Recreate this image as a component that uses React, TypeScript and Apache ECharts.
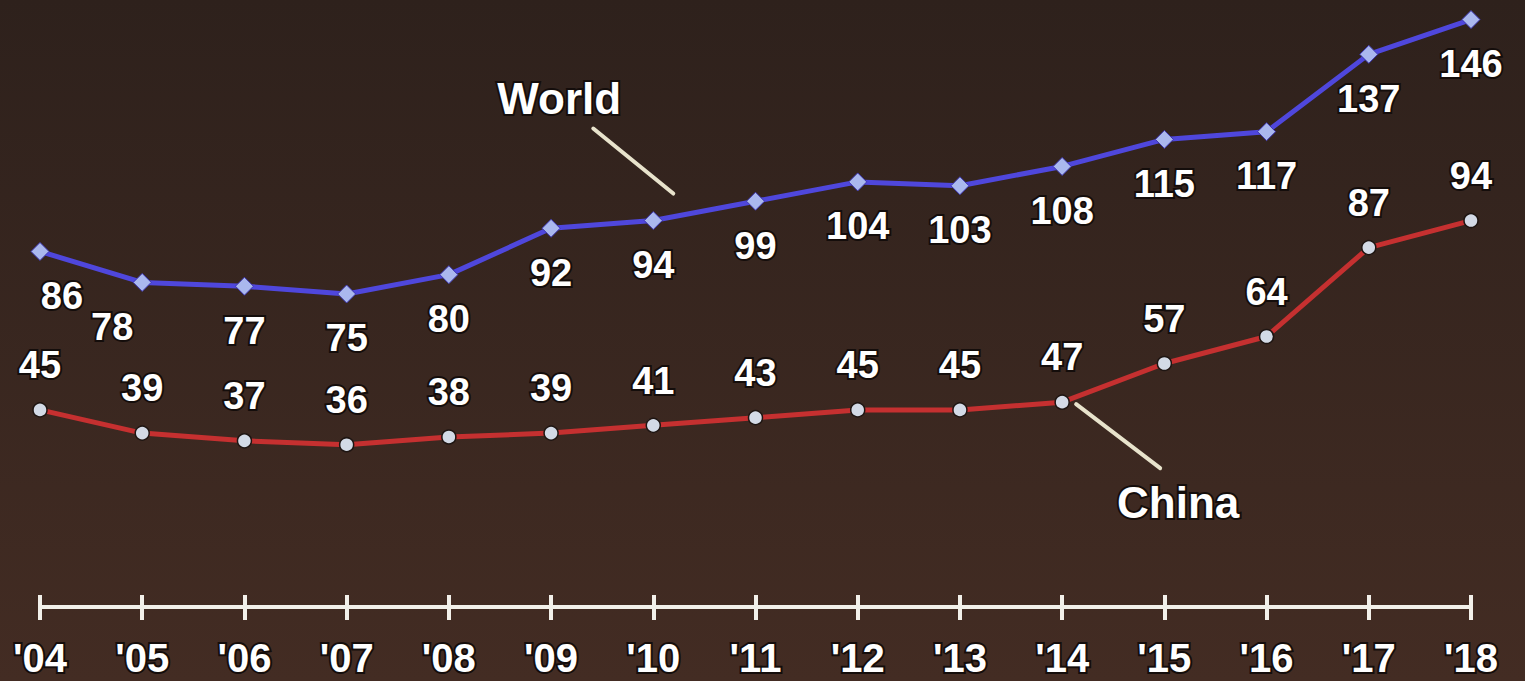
import React, { useEffect, useRef } from "react";
import * as echarts from "echarts";

const years = ["'04", "'05", "'06", "'07", "'08", "'09", "'10", "'11", "'12", "'13", "'14", "'15", "'16", "'17", "'18"];
const worldValues = [86, 78, 77, 75, 80, 92, 94, 99, 104, 103, 108, 115, 117, 137, 146];
const chinaValues = [45, 39, 37, 36, 38, 39, 41, 43, 45, 45, 47, 57, 64, 87, 94];
const worldLabelShift = [22, -30, 0, 0, 0, 0, 0, 0, 0, 0, 0, 0, 0, 0, 0];

const FONT = "'Liberation Sans', Arial, Helvetica, sans-serif";
const textBase = {
  color: "#ffffff",
  fontWeight: "bold" as const,
  fontFamily: FONT,
  textBorderColor: "#140d0b",
  textBorderWidth: 4,
};

export default function App() {
  const ref = useRef<HTMLDivElement>(null);
  useEffect(() => {
    if (!ref.current) return;
    const chart = echarts.init(ref.current, null, { renderer: "svg" });
    chart.setOption({
      animation: false,
      backgroundColor: {
        type: "linear",
        x: 0,
        y: 0,
        x2: 0,
        y2: 1,
        colorStops: [
          { offset: 0, color: "#2e211c" },
          { offset: 1, color: "#432c23" },
        ],
      },
      grid: { left: 40, right: 54, top: 8, bottom: 74 },
      xAxis: [
        {
          type: "category",
          data: years,
          boundaryGap: false,
          position: "bottom",
          axisLine: { show: true, onZero: false, lineStyle: { color: "#f2f0ea", width: 4 } },
          axisTick: { show: true, length: 13, lineStyle: { color: "#f2f0ea", width: 4 } },
          axisLabel: { ...textBase, fontSize: 40, margin: 31 },
          splitLine: { show: false },
        },
        {
          type: "category",
          data: years,
          boundaryGap: false,
          position: "bottom",
          axisLine: { show: false, onZero: false },
          axisTick: { show: true, inside: true, length: 12, lineStyle: { color: "#f2f0ea", width: 4 } },
          axisLabel: { show: false },
          splitLine: { show: false },
        },
      ],
      yAxis: { type: "value", min: -6, max: 149, show: false, splitLine: { show: false } },
      series: [
        {
          name: "World",
          type: "line",
          data: worldValues.map((v, i) => ({
            value: v,
            label: { offset: [worldLabelShift[i], 0] },
          })),
          symbol: "diamond",
          symbolSize: 18,
          lineStyle: { color: "#4f47dc", width: 5 },
          itemStyle: { color: "#aab8ee", borderColor: "#3b34b0", borderWidth: 1 },
          label: { show: true, position: "bottom", distance: 16, fontSize: 38, ...textBase },
        },
        {
          name: "China",
          type: "line",
          data: chinaValues,
          symbol: "circle",
          symbolSize: 14,
          lineStyle: { color: "#c53030", width: 5 },
          itemStyle: { color: "#d3dae6", borderColor: "#1e1512", borderWidth: 1.5 },
          label: { show: true, position: "top", distance: 18, fontSize: 38, ...textBase },
        },
      ],
    });

    const pw = chart.convertToPixel({ xAxisIndex: 0, yAxisIndex: 0 }, [years[6], worldValues[6]]) as number[];
    const pc = chart.convertToPixel({ xAxisIndex: 0, yAxisIndex: 0 }, [years[10], chinaValues[10]]) as number[];
    const annoStyle = {
      fill: "#ffffff",
      stroke: "#140d0b",
      lineWidth: 4,
      font: `bold 44px ${FONT}`,
      align: "center",
      verticalAlign: "middle",
    };
    chart.setOption({
      graphic: [
        {
          type: "line",
          shape: { x1: pw[0] - 60, y1: pw[1] - 92, x2: pw[0] + 20, y2: pw[1] - 27 },
          style: { stroke: "#e8e3cc", lineWidth: 4, lineCap: "round" },
          z: 10,
        },
        {
          type: "text",
          x: pw[0] - 94,
          y: pw[1] - 122,
          style: { text: "World", ...annoStyle },
          z: 10,
        },
        {
          type: "line",
          shape: { x1: pc[0] + 14, y1: pc[1] + 2, x2: pc[0] + 98, y2: pc[1] + 66 },
          style: { stroke: "#e8e3cc", lineWidth: 4, lineCap: "round" },
          z: 10,
        },
        {
          type: "text",
          x: pc[0] + 116,
          y: pc[1] + 100,
          style: { text: "China", ...annoStyle },
          z: 10,
        },
      ],
    });
    return () => chart.dispose();
  }, []);
  return (
    <div
      ref={ref}
      style={{ position: "fixed", left: 0, top: 0, width: 1525, height: 681 }}
    />
  );
}
